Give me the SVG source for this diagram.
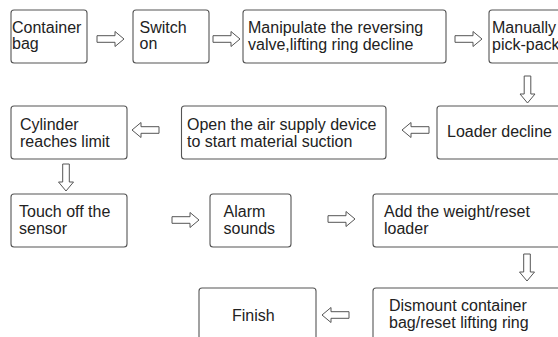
<svg xmlns="http://www.w3.org/2000/svg" xmlns:xlink="http://www.w3.org/1999/xlink" width="558" height="337" viewBox="0 0 558 337">
<style>
.box{fill:#fff;stroke:#555;stroke-width:1.1}
.t{font-family:"Liberation Sans",Arial,sans-serif;font-size:16px;fill:#222}
.ar{fill:#fff;stroke:#555;stroke-width:1}
</style>
<defs>
<path id="arr" d="M0,-3.3 H18 V-7.5 L27,0 L18,7.5 V3.3 H0 Z"/>
</defs>
<rect width="558" height="337" fill="#fff"/>
<g id="connectors" class="ar">
<use xlink:href="#arr" href="#arr" transform="translate(97,39)"/>
<use xlink:href="#arr" href="#arr" transform="translate(213,39)"/>
<use xlink:href="#arr" href="#arr" transform="translate(455,39)"/>
<use xlink:href="#arr" href="#arr" transform="translate(527.5,76) rotate(90)"/>
<use xlink:href="#arr" href="#arr" transform="translate(429,130) rotate(180)"/>
<use xlink:href="#arr" href="#arr" transform="translate(159,130) rotate(180)"/>
<use xlink:href="#arr" href="#arr" transform="translate(66,164) rotate(90)"/>
<use xlink:href="#arr" href="#arr" transform="translate(172,220) rotate(0)"/>
<use xlink:href="#arr" href="#arr" transform="translate(328,219)"/>
<use xlink:href="#arr" href="#arr" transform="translate(527,254) rotate(90)"/>
<use xlink:href="#arr" href="#arr" transform="translate(349,315) rotate(180)"/>
</g>
<g id="n1"><rect class="box" x="11" y="10" width="76" height="53" rx="3"/><text class="t" x="12" y="33">Container</text><text class="t" x="12" y="49">bag</text></g>
<g id="n2"><rect class="box" x="133" y="10" width="76" height="53" rx="3"/><text class="t" x="139.5" y="33">Switch</text><text class="t" x="139.5" y="49">on</text></g>
<g id="n3"><rect class="box" x="243" y="10" width="203" height="53" rx="3"/><text class="t" x="248" y="33">Manipulate the reversing</text><text class="t" x="248" y="50">valve,lifting ring decline</text></g>
<g id="n4"><rect class="box" x="489" y="10" width="80" height="53" rx="3"/><text class="t" x="492" y="33">Manually</text><text class="t" x="492" y="50">pick-pack</text></g>
<g id="n5"><rect class="box" x="437" y="106" width="130" height="53" rx="3"/><text class="t" x="447" y="137">Loader decline</text></g>
<g id="n6"><rect class="box" x="181.5" y="106" width="204.5" height="53" rx="3"/><text class="t" x="187" y="130">Open the air supply device</text><text class="t" x="187" y="147">to start material suction</text></g>
<g id="n7"><rect class="box" x="11" y="106" width="116" height="53" rx="3"/><text class="t" x="20" y="130">Cylinder</text><text class="t" x="20" y="147">reaches limit</text></g>
<g id="n8"><rect class="box" x="11" y="194" width="116" height="53" rx="3"/><text class="t" x="19" y="217">Touch off the</text><text class="t" x="19" y="234">sensor</text></g>
<g id="n9"><rect class="box" x="210" y="194" width="81" height="53" rx="3"/><text class="t" x="223.5" y="217">Alarm</text><text class="t" x="223.5" y="234">sounds</text></g>
<g id="n10"><rect class="box" x="373" y="194" width="196" height="53" rx="3"/><text class="t" x="384" y="217">Add the weight/reset</text><text class="t" x="384" y="234">loader</text></g>
<g id="n11"><rect class="box" x="373" y="288" width="196" height="60" rx="3"/><text class="t" x="389" y="311">Dismount container</text><text class="t" x="389" y="328">bag/reset lifting ring</text></g>
<g id="n12"><rect class="box" x="199" y="288" width="117" height="60" rx="3"/><text class="t" x="232" y="321">Finish</text></g>
</svg>
